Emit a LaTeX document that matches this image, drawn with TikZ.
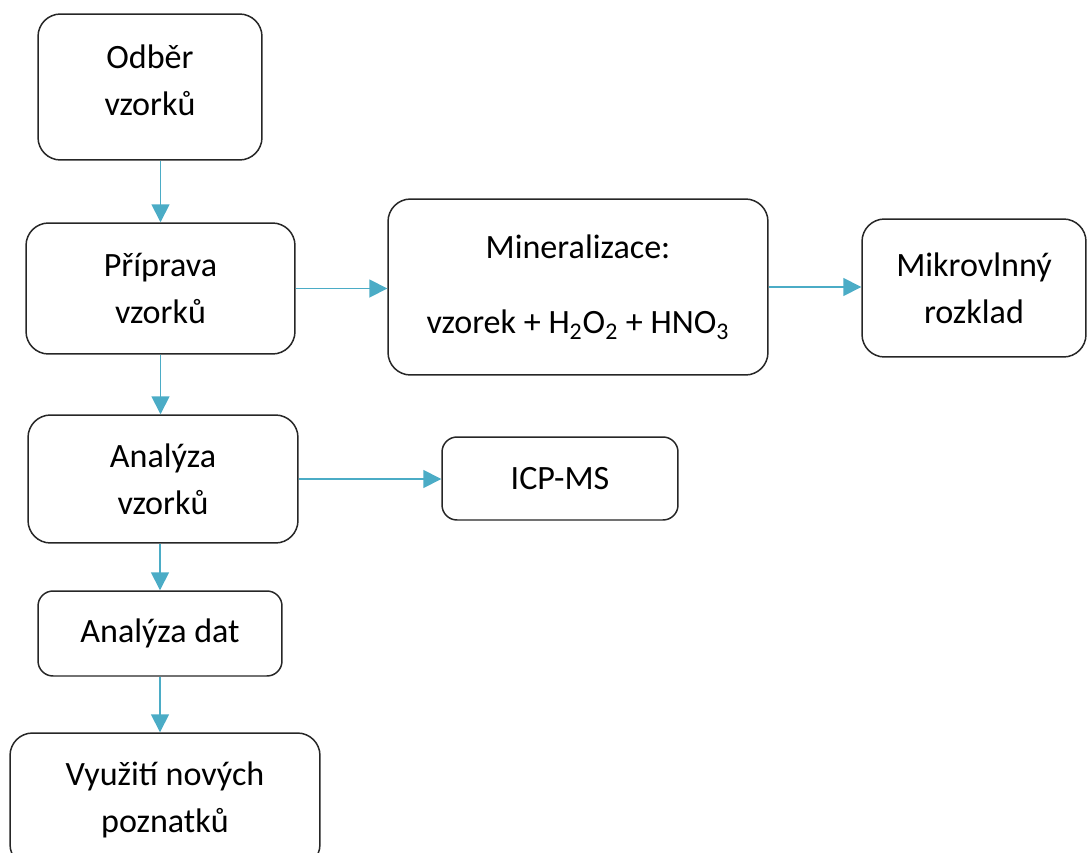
\documentclass[tikz,border=0pt]{standalone}
\usepackage{fontspec}
\setmainfont{Carlito}
\usetikzlibrary{arrows.meta,positioning}
\definecolor{flowblue}{HTML}{4BACC6}
\tikzset{
  box/.style={draw=black!85, line width=0.85pt, rounded corners=0.45cm, align=center, inner sep=0pt, font=\fontsize{19.4}{26.8}\selectfont},
  smallbox/.style={box, rounded corners=0.3cm},
  arrow/.style={-{Triangle[length=3.6mm,width=3.6mm]}, draw=flowblue, fill=flowblue, line width=1pt}
}

\begin{document}
\begin{tikzpicture}[x=0.02cm, y=-0.02cm]
\useasboundingbox (0,0) rectangle (1088,852);
\clip (0,0) rectangle (1088,852);
\node[box, minimum width=4.48cm, minimum height=2.92cm, text depth=0.26cm] (odber) at (150,87) {Odběr\\vzorků};
\node[box, minimum width=5.38cm, minimum height=2.62cm] (priprava) at (160.5,288.5) {Příprava\\vzorků};
\node[box, minimum width=7.6cm, minimum height=3.52cm] (miner) at (578,287) {Mineralizace:\\[16pt]vzorek + H\textsubscript{2}O\textsubscript{2} + HNO\textsubscript{3}};
\node[box, minimum width=4.48cm, minimum height=2.76cm] (mikro) at (974,288) {Mikrovlnný\\rozklad};
\node[box, minimum width=5.4cm, minimum height=2.56cm] (analyza) at (163,479) {Analýza\\vzorků};
\node[smallbox, minimum width=4.72cm, minimum height=1.66cm] (icp) at (560,478.5) {ICP-MS};
\node[smallbox, minimum width=4.88cm, minimum height=1.7cm] (data) at (160,633.5) {Analýza dat};
\node[box, minimum width=6.2cm, minimum height=2.68cm] (vyuziti) at (165,800) {Využití nových\\poznatků};
\draw[arrow] (priprava.north |- odber.south) -- (priprava.north);
\draw[arrow] (priprava.south) -- (priprava.south |- analyza.north);
\draw[arrow] (analyza.south -| data.north) -- (data.north);
\draw[arrow] (data.south) -- (data.south |- vyuziti.north);
\draw[arrow] (priprava.east) -- (priprava.east -| miner.west);
\draw[arrow] (miner.east) -- (miner.east -| mikro.west);
\draw[arrow] (analyza.east) -- (analyza.east -| icp.west);
\end{tikzpicture}
\end{document}
